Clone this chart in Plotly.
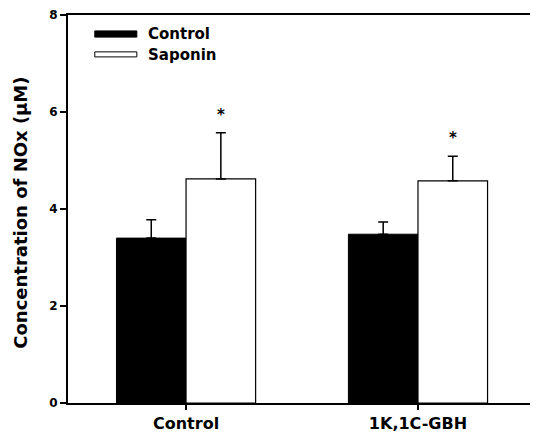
import plotly.graph_objects as go

categories = ["Control", "1K,1C-GBH"]
control_vals = [3.40, 3.48]
control_err = [0.38, 0.25]
saponin_vals = [4.62, 4.58]
saponin_err = [0.95, 0.51]
star_labels = ["*", "*"]
y_ticks = [0, 2, 4, 6, 8]

FONT = "DejaVu Sans, Arial, sans-serif"

fig = go.Figure()
fig.add_trace(go.Bar(
    x=[0, 1], y=control_vals, name="Control",
    marker=dict(color="black", line=dict(color="black", width=1)),
    error_y=dict(type="data", symmetric=False, array=control_err,
                 arrayminus=[0, 0], color="black", thickness=1.5, width=5),
    showlegend=False,
))
fig.add_trace(go.Bar(
    x=[0, 1], y=saponin_vals, name="Saponin",
    marker=dict(color="white", line=dict(color="black", width=1.2)),
    error_y=dict(type="data", symmetric=False, array=saponin_err,
                 arrayminus=[0, 0], color="black", thickness=1.5, width=5),
    showlegend=False,
))

# significance stars above saponin bars
for i, (v, e, s) in enumerate(zip(saponin_vals, saponin_err, star_labels)):
    fig.add_annotation(x=i + 0.15, y=v + e, text="<b>%s</b>" % s, showarrow=False,
                       yshift=18, font=dict(family=FONT, size=15, color="black"))

# custom legend
fig.add_shape(type="rect", xref="paper", yref="paper",
              x0=0.058, x1=0.149, y0=0.959, y1=0.943,
              fillcolor="black", line=dict(color="black", width=1))
fig.add_shape(type="rect", xref="paper", yref="paper",
              x0=0.058, x1=0.149, y0=0.905, y1=0.892,
              fillcolor="white", line=dict(color="black", width=1))
fig.add_annotation(xref="paper", yref="paper", x=0.168, y=0.951, text="<b>Control</b>",
                   showarrow=False, xanchor="left", yanchor="middle",
                   font=dict(family=FONT, size=15, color="black"))
fig.add_annotation(xref="paper", yref="paper", x=0.168, y=0.897, text="<b>Saponin</b>",
                   showarrow=False, xanchor="left", yanchor="middle",
                   font=dict(family=FONT, size=15, color="black"))

# y-axis title
fig.add_annotation(xref="paper", yref="paper", x=-0.102, y=0.49,
                   text="<b>Concentration of NOx (μM)</b>", textangle=-90,
                   showarrow=False, xanchor="center", yanchor="middle",
                   font=dict(family=FONT, size=18, color="black"))

# page body has an 8px default margin, so the figure is sized to fit the window
fig.update_layout(
    width=530, height=428,
    margin=dict(l=60, r=8, t=7, b=33),
    paper_bgcolor="white", plot_bgcolor="white",
    barmode="group", bargap=0.4, bargroupgap=0,
    font=dict(family=FONT, color="black"),
    xaxis=dict(
        range=[-0.509, 1.483], tickmode="array", tickvals=[0, 1],
        ticktext=["<b>%s</b>" % c for c in categories],
        ticks="outside", ticklen=5, tickwidth=1.5, tickcolor="black",
        showline=True, linecolor="black", linewidth=2, mirror=True,
        showgrid=False, zeroline=False, automargin=False,
        tickfont=dict(family=FONT, size=16, color="black"),
    ),
    yaxis=dict(
        range=[0, 8], tickmode="array", tickvals=y_ticks,
        ticktext=["<b>%d</b>" % t for t in y_ticks],
        ticks="outside", ticklen=6, tickwidth=1.5, tickcolor="black",
        showline=True, linecolor="black", linewidth=2, mirror=True,
        showgrid=False, zeroline=False, automargin=False,
        tickfont=dict(family=FONT, size=12, color="black"),
    ),
)

fig.write_html("out.html")
